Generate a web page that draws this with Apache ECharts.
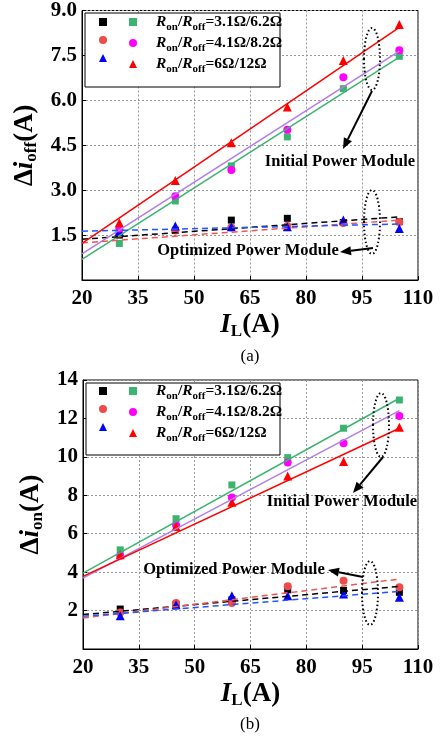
<!DOCTYPE html>
<html lang="en">
<head>
<meta charset="UTF-8">
<title>Current ripple vs load current</title>
<script src="https://cdn.jsdelivr.net/npm/echarts@6.0.0/dist/echarts.min.js"></script>
<style>html,body{margin:0;padding:0;background:#fff}</style>
</head>
<body>
<div id="chart" style="width:443px;height:740px;"></div>
<script>
// load current points (A)
const currents = [30, 45, 60, 75, 90, 105];
const fitX = [20, 105];
const xTicks = [20, 35, 50, 65, 80, 95, 110];
const offTicks = [1.5, 3.0, 4.5, 6.0, 7.5, 9.0];
const onTicks = [2, 4, 6, 8, 10, 12, 14];
const labels = ['3.1Ω/6.2Ω', '4.1Ω/8.2Ω', '6Ω/12Ω'];

// (a) turn-off ripple, initial module
const offInit1 = [1.22, 2.64, 3.81, 4.78, 6.39, 7.47];
const offInit2 = [1.72, 2.80, 3.67, 5.02, 6.77, 7.67];
const offInit3 = [1.91, 3.32, 4.58, 5.78, 7.33, 8.53];
// (a) turn-off ripple, optimized module
const offOpt1 = [1.50, 1.66, 2.00, 2.06, 1.92, 1.95];
const offOpt2 = [1.55, 1.65, 1.75, 1.80, 1.90, 1.94];
const offOpt3 = [1.62, 1.80, 1.78, 1.78, 2.00, 1.72];
// fitted lines, values at fitX
const offInitFit1 = [0.69, 7.44];
const offInitFit2 = [0.87, 7.64];
const offInitFit3 = [1.22, 8.44];
const offOptFit1 = [1.36, 2.11];
const offOptFit2 = [1.24, 2.00];
const offOptFit3 = [1.63, 1.87];

// (b) turn-on ripple, initial module
const onInit1 = [5.16, 6.78, 8.54, 9.96, 11.49, 12.96];
const onInit2 = [4.85, 6.46, 7.89, 9.70, 10.71, 12.13];
const onInit3 = [4.90, 6.38, 7.64, 9.01, 9.76, 11.54];
// (b) turn-on ripple, optimized module
const onOpt1 = [2.08, 2.32, 2.56, 3.08, 3.05, 2.95];
const onOpt2 = [1.90, 2.39, 2.39, 3.26, 3.55, 3.22];
const onOpt3 = [1.73, 2.30, 2.77, 2.77, 2.86, 2.69];
const onInitFit1 = [3.95, 13.05];
const onInitFit2 = [3.69, 12.41];
const onInitFit3 = [3.78, 11.49];
const onOptFit1 = [1.79, 3.26];
const onOptFit2 = [1.61, 3.64];
const onOptFit3 = [1.70, 3.00];

const FONT = 'Liberation Serif';
const colOpt = ['#000000', '#ee4b4b', '#0000ff'];
const colInit = ['#3cb371', '#ff00ff', '#ff0000'];
const colInitLine = ['#3cb371', '#b07ee8', '#ff0000'];
const colOptLine = ['#000000', '#ee5555', '#2255ff'];
const symbols = ['rect', 'circle', 'triangle'];
const symSize = [7, 8, 9];

const pair = (xs, ys) => xs.map((x, i) => [x, ys[i]]);

const chart = echarts.init(document.getElementById('chart'));

function panelSeries(p, init, opt, initFit, optFit) {
    const s = [];
    for (let k = 0; k < 3; k++) {
        s.push({
            type: 'line', xAxisIndex: p, yAxisIndex: p, data: pair(fitX, initFit[k]),
            symbol: 'none', lineStyle: { color: colInitLine[k], width: 1.5 }, silent: true
        });
        s.push({
            type: 'line', xAxisIndex: p, yAxisIndex: p, data: pair(fitX, optFit[k]),
            symbol: 'none', lineStyle: { color: colOptLine[k], width: 1.5, type: [6, 4] }, silent: true
        });
    }
    const tag = p === 0 ? 'a' : 'b';
    for (let k = 0; k < 3; k++) {
        s.push({
            name: tag + 'o' + k, type: 'scatter', xAxisIndex: p, yAxisIndex: p,
            data: pair(currents, opt[k]), symbol: symbols[k], symbolSize: symSize[k],
            itemStyle: { color: colOpt[k], opacity: 1 }
        });
    }
    for (let k = 0; k < 3; k++) {
        s.push({
            name: tag + 'i' + k, type: 'scatter', xAxisIndex: p, yAxisIndex: p,
            data: pair(currents, init[k]), symbol: symbols[k], symbolSize: symSize[k],
            itemStyle: { color: colInit[k], opacity: 1 }
        });
    }
    return s;
}

const richLegend = {
    m: { fontFamily: FONT, fontWeight: 'bold', fontSize: 15.5, lineHeight: 22, color: '#000' },
    r: { fontFamily: FONT, fontWeight: 'bold', fontStyle: 'italic', fontSize: 15.5, lineHeight: 22, color: '#000' },
    s: { fontFamily: FONT, fontWeight: 'bold', fontSize: 11, lineHeight: 11, verticalAlign: 'bottom', color: '#000' },
    sp: { width: 14, lineHeight: 22 }
};

function legends(p, top) {
    const tag = p === 0 ? 'a' : 'b';
    const common = {
        orient: 'vertical', top: top, padding: 0, itemGap: 2, itemWidth: 8, itemHeight: 8,
        selectedMode: false, textStyle: { rich: richLegend }
    };
    return [
        Object.assign({}, common, {
            left: 99, data: [0, 1, 2].map(k => tag + 'o' + k),
            formatter: () => '{m| }'
        }),
        Object.assign({}, common, {
            left: 129, data: [0, 1, 2].map(k => tag + 'i' + k),
            formatter: n => '{sp|}{r|R}{s|on}{m|/}{r|R}{s|off}{m|=' + labels[+n.slice(-1)] + '}'
        })
    ];
}

const nameRich = {
    i: { fontFamily: FONT, fontWeight: 'bold', fontStyle: 'italic', fontSize: 27, lineHeight: 30, color: '#000' },
    s: { fontFamily: FONT, fontWeight: 'bold', fontSize: 17, lineHeight: 17, verticalAlign: 'bottom', color: '#000' },
    m: { fontFamily: FONT, fontWeight: 'bold', fontSize: 27, lineHeight: 30, color: '#000' }
};

function xAxisOf(p) {
    return {
        gridIndex: p, type: 'value', min: 20, max: 110, interval: 15,
        name: '{i|I}{s|L}{m|(A)}', nameLocation: 'middle', nameGap: 30,
        nameTextStyle: { rich: nameRich },
        axisLine: { show: true, lineStyle: { color: '#000', width: 1 } },
        axisTick: { show: true, inside: true, length: 4, lineStyle: { color: '#000' } },
        axisLabel: {
            color: '#000', fontFamily: FONT, fontWeight: 'bold', fontSize: 21, margin: 8,
            formatter: v => xTicks.includes(v) ? String(v) : ''
        },
        splitLine: { show: true, lineStyle: { color: '#999', type: [2, 2], width: 1 } }
    };
}

function yAxisOf(p, max, interval, ticks, sub, fmt) {
    return {
        gridIndex: p, type: 'value', min: 0, max: max, interval: interval,
        name: '{m|Δ}{i|i}{s|' + sub + '}{m|(A)}', nameLocation: 'middle', nameGap: 37,
        nameTextStyle: { rich: nameRich },
        axisLine: { show: true, lineStyle: { color: '#000', width: 1 } },
        axisTick: { show: true, inside: true, length: 4, lineStyle: { color: '#000' } },
        axisLabel: {
            color: '#000', fontFamily: FONT, fontWeight: 'bold', fontSize: 21, margin: 5,
            formatter: v => ticks.some(t => Math.abs(t - v) < 1e-6) ? fmt(v) : ''
        },
        splitLine: { show: true, lineStyle: { color: '#999', type: [2, 2], width: 1 } }
    };
}

function arrow(x1, y1, x2, y2) {
    const a = Math.atan2(y2 - y1, x2 - x1);
    const L = 11, W = 4.5;
    const bx = x2 - L * Math.cos(a), by = y2 - L * Math.sin(a);
    const px = -Math.sin(a) * W, py = Math.cos(a) * W;
    return [
        { type: 'line', z: 10, shape: { x1: x1, y1: y1, x2: bx, y2: by }, style: { stroke: '#000', lineWidth: 2 } },
        { type: 'polygon', z: 10, shape: { points: [[x2, y2], [bx + px, by + py], [bx - px, by - py]] }, style: { fill: '#000' } }
    ];
}

function ellipse(cx, cy, rx, ry) {
    return { type: 'ellipse', z: 10, shape: { cx: cx, cy: cy, rx: rx, ry: ry },
        style: { fill: 'none', stroke: '#000', lineWidth: 2, lineDash: [1.5, 2.5] } };
}

function note(text, x, y) {
    return { type: 'text', z: 10, x: x, y: y,
        style: { text: text, font: 'bold 16.5px "Liberation Serif"', fill: '#000', align: 'center', verticalAlign: 'middle' } };
}

const graphics = [
    { type: 'rect', z: 3, shape: { x: 85, y: 13, width: 195, height: 74 }, style: { fill: '#fff', stroke: '#000', lineWidth: 1 } },
    { type: 'rect', z: 3, shape: { x: 86, y: 383, width: 194, height: 72 }, style: { fill: '#fff', stroke: '#000', lineWidth: 1 } },
    ellipse(372, 59, 8, 31),
    ellipse(372, 222, 8, 32),
    ellipse(381, 425, 8, 32),
    ellipse(370, 593, 8, 32),
    ...arrow(372, 91, 343, 149),
    ...arrow(373, 248, 340, 252),
    ...arrow(383, 457, 353, 493),
    ...arrow(363, 577, 328, 570),
    note('Initial Power Module', 340, 162),
    note('Optimized Power Module', 248, 251),
    note('Initial Power Module', 342, 502),
    note('Optimized Power Module', 234, 570),
    { type: 'text', x: 250, y: 357, style: { text: '(a)', font: '17px "Liberation Serif"', fill: '#000', align: 'center', verticalAlign: 'middle' } },
    { type: 'text', x: 250, y: 725, style: { text: '(b)', font: '17px "Liberation Serif"', fill: '#000', align: 'center', verticalAlign: 'middle' } }
];

chart.setOption({
    animation: false,
    backgroundColor: '#fff',
    grid: [
        { left: 82, top: 10, width: 336, height: 270, show: true, borderColor: '#000', borderWidth: 1, backgroundColor: 'transparent' },
        { left: 83, top: 380, width: 335, height: 269, show: true, borderColor: '#000', borderWidth: 1, backgroundColor: 'transparent' }
    ],
    xAxis: [xAxisOf(0), xAxisOf(1)],
    yAxis: [
        yAxisOf(0, 9, 1.5, offTicks, 'off', v => v.toFixed(1)),
        yAxisOf(1, 14, 2, onTicks, 'on', v => String(v))
    ],
    legend: [...legends(0, 14), ...legends(1, 383)],
    graphic: graphics,
    series: [
        ...panelSeries(0, [offInit1, offInit2, offInit3], [offOpt1, offOpt2, offOpt3],
            [offInitFit1, offInitFit2, offInitFit3], [offOptFit1, offOptFit2, offOptFit3]),
        ...panelSeries(1, [onInit1, onInit2, onInit3], [onOpt1, onOpt2, onOpt3],
            [onInitFit1, onInitFit2, onInitFit3], [onOptFit1, onOptFit2, onOptFit3])
    ]
});
</script>
</body>
</html>
